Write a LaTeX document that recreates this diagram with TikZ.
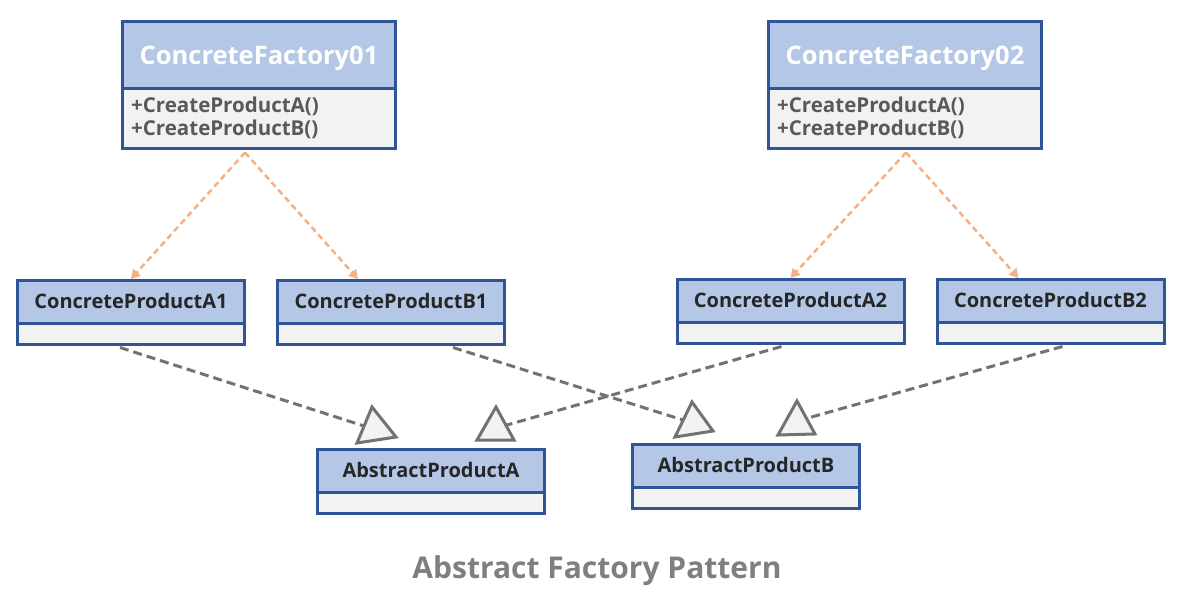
\documentclass[tikz,border=0pt]{standalone}
\usepackage{fontspec}
\setmainfont{Open Sans}
\usetikzlibrary{arrows.meta,positioning}
\definecolor{hdrfill}{HTML}{B4C7E7}
\definecolor{bordc}{HTML}{2F5597}
\definecolor{cmpfill}{HTML}{F2F2F2}
\definecolor{orangec}{HTML}{F4B183}
\definecolor{grayl}{HTML}{767171}
\definecolor{titlec}{HTML}{7F7F7F}
\definecolor{txtc}{HTML}{262626}
\definecolor{optxt}{HTML}{595959}
\tikzset{
  bighdr/.style={draw=bordc, fill=hdrfill, line width=3pt, minimum width=273pt, minimum height=67.5pt, inner sep=0pt, outer sep=0pt,
    font=\bfseries\fontsize{25.5}{28}\selectfont, text=white, text height=18pt, text depth=0pt},
  bigcmp/.style={draw=bordc, fill=cmpfill, line width=3pt, minimum width=273pt, minimum height=59.5pt, inner sep=0pt, outer sep=0pt},
  hdr/.style={draw=bordc, fill=hdrfill, line width=3pt, minimum width=227pt, minimum height=42.5pt, inner sep=0pt, outer sep=0pt,
    font=\bfseries\fontsize{20}{23}\selectfont, text=txtc, text height=14pt, text depth=0pt},
  cmp/.style={draw=bordc, fill=cmpfill, line width=3pt, minimum width=227pt, minimum height=21.5pt, inner sep=0pt, outer sep=0pt},
  ops/.style={font=\bfseries\fontsize{20.5}{23.5}\selectfont, text=optxt, align=left, anchor=west, inner sep=0pt},
  dep/.style={draw=orangec, line width=2.5pt, dash pattern=on 6pt off 4pt, -{Triangle[length=9pt,width=10pt]}},
  real/.style={draw=grayl, line width=3pt, dash pattern=on 9pt off 5pt},
  tri/.style={draw=grayl, fill=cmpfill, line width=3pt, line join=miter},
}
\begin{document}
\begin{tikzpicture}[x=1pt,y=-1pt]
\useasboundingbox (0,0) rectangle (1184,599);
% factories
\node[bighdr] (cf1) at (259,55.25) {ConcreteFactory01};
\node[bigcmp, anchor=north] (cf1b) at (cf1.south) {};
\node[ops] (cf1o) at (131,118) {+CreateProductA()\\+CreateProductB()};
\node[bighdr] (cf2) at (905,55.25) {ConcreteFactory02};
\node[bigcmp, anchor=north] (cf2b) at (cf2.south) {};
\node[ops] (cf2o) at (777,118) {+CreateProductA()\\+CreateProductB()};
% concrete products
\node[hdr] (pa1) at (131,301.75) {ConcreteProductA1};
\node[cmp, anchor=north] (pa1b) at (pa1.south) {};
\node[hdr] (pb1) at (391,301.75) {ConcreteProductB1};
\node[cmp, anchor=north] (pb1b) at (pb1.south) {};
\node[hdr] (pa2) at (790.5,300.75) {ConcreteProductA2};
\node[cmp, anchor=north] (pa2b) at (pa2.south) {};
\node[hdr] (pb2) at (1050.5,300.75) {ConcreteProductB2};
\node[cmp, anchor=north] (pb2b) at (pb2.south) {};
% abstract products
\node[hdr] (apa) at (431,470.75) {AbstractProductA};
\node[cmp, anchor=north] (apab) at (apa.south) {};
\node[hdr] (apb) at (746,465.75) {AbstractProductB};
\node[cmp, anchor=north] (apbb) at (apb.south) {};
% triangle attach points
\coordinate (ta1) at (364,426);
\coordinate (ta2) at (507,425);
\coordinate (tb1) at (683,420);
\coordinate (tb2) at (808,418);
% dependency arrows
\draw[dep] ([xshift=-14pt,yshift=-4pt]cf1b.south) -- ([yshift=1.5pt]pa1.north);
\draw[dep] ([xshift=-14pt,yshift=-4pt]cf1b.south) -- ([xshift=-33pt,yshift=1.5pt]pb1.north);
\draw[dep] ([xshift=1pt,yshift=-4pt]cf2b.south) -- ([yshift=1.5pt]pa2.north);
\draw[dep] ([xshift=1pt,yshift=-4pt]cf2b.south) -- ([xshift=-32pt,yshift=1.5pt]pb2.north);
% realization lines
\draw[real] ([xshift=-11pt,yshift=-3pt]pa1b.south) -- (ta1);
\draw[real] ([xshift=-9pt,yshift=-3pt]pa2b.south) -- (ta2);
\draw[real] ([xshift=62pt,yshift=-3pt]pb1b.south) -- (tb1);
\draw[real] ([xshift=12pt,yshift=-3pt]pb2b.south) -- (tb2);
% triangles
\draw[tri] (372,407) -- (357,443) -- (396,437) -- cycle;
\draw[tri] (496,407) -- (477,440) -- (514,440) -- cycle;
\draw[tri] (692,402) -- (675,437) -- (713,431) -- cycle;
\draw[tri] (797,401) -- (778,435) -- (815,434) -- cycle;
% title
\node[font=\bfseries\fontsize{30}{32}\selectfont, text=titlec] (title) at (597,571) {Abstract Factory Pattern};
\end{tikzpicture}
\end{document}
